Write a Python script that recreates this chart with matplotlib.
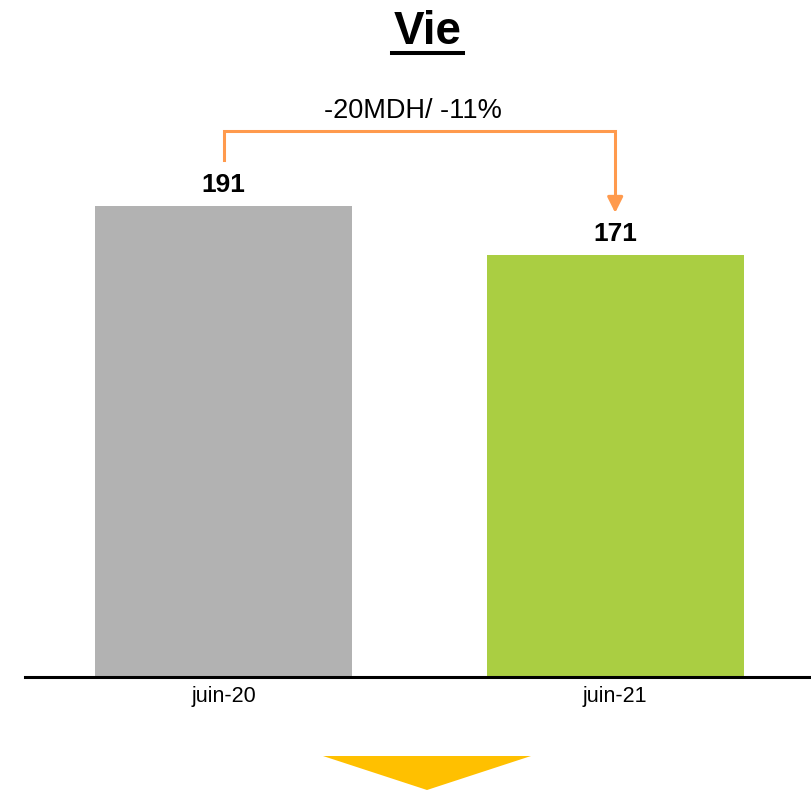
import matplotlib
matplotlib.use("Agg")
from matplotlib import pyplot as plt
from matplotlib.patches import Polygon
from matplotlib.lines import Line2D

plt.rcParams['font.family'] = ['Liberation Sans', 'DejaVu Sans']

# data
categories = ['juin-20', 'juin-21']
values = [191, 171]
bar_colors = ['#B2B2B2', '#AACE42']
title = 'Vie'
delta_label = '-20MDH/ -11%'

orange = '#FF9A4D'

fig = plt.figure(figsize=(8.11, 7.90), dpi=100)
ax = fig.add_axes([25/811, 113/790, 786/811, 677/790])

x = list(range(len(categories)))
ax.bar(x, values, width=0.656, color=bar_colors, zorder=2)
ax.set_xlim(-0.507, 1.5)
ax.set_ylim(0, 274.5)

for s in ['top', 'left', 'right']:
    ax.spines[s].set_visible(False)
ax.spines['bottom'].set_linewidth(2.2)
ax.spines['bottom'].set_color('black')
ax.spines['bottom'].set_zorder(3)
ax.set_yticks([])
ax.set_xticks(x)
ax.set_xticklabels(categories, fontsize=15.5)
ax.tick_params(axis='x', length=0, pad=6.5)

# value labels
for xi, v in zip(x, values):
    ax.annotate(str(v), (xi, v), xytext=(0, 10), textcoords='offset points',
                ha='center', va='baseline', fontsize=19, fontweight='bold')

# bracket arrow from first to second bar
start_y = values[0] + 18.6
top_y = max(values) + 30.2
tip_y = values[1] + 17.2
ax.plot([x[0], x[0], x[1], x[1]], [start_y, top_y, top_y, tip_y + 5],
        color=orange, lw=2.2, solid_joinstyle='miter', zorder=4)
ax.annotate('', xy=(x[1], tip_y), xytext=(x[1], tip_y + 6),
            arrowprops=dict(arrowstyle='-|>,head_length=0.94,head_width=0.47',
                            mutation_scale=10, color=orange, lw=2.2,
                            shrinkA=0, shrinkB=0), zorder=4)
ax.annotate(delta_label, ((x[0] + x[1]) / 2 - 0.017, top_y), xytext=(0, 9.6),
            textcoords='offset points', ha='center', va='baseline', fontsize=19.5)

# title with underline
fig.text(428/811, 1 - 32/790, title, ha='center', va='center',
         fontsize=33, fontweight='bold')
fig.add_artist(Line2D([392/811, 463/811], [1 - 52.5/790, 1 - 52.5/790],
                      color='black', lw=2.9, transform=fig.transFigure))

# yellow down triangle at the bottom
fig.add_artist(Polygon([[323/811, 1 - 756/790], [531/811, 1 - 756/790], [427/811, 0]],
                       closed=True, facecolor='#FFC000', edgecolor='none',
                       transform=fig.transFigure))

fig.savefig('out.png', dpi=100)
